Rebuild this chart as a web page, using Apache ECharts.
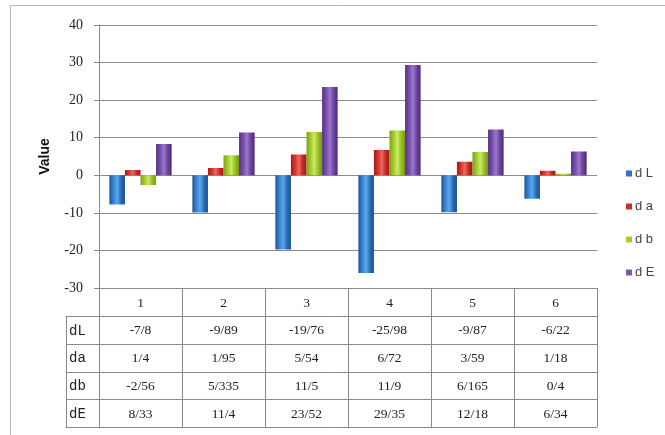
<!DOCTYPE html>
<html>
<head>
<meta charset="utf-8">
<script src="https://cdn.jsdelivr.net/npm/echarts@6/dist/echarts.min.js"></script>
<style>
html,body{margin:0;padding:0;background:#fff;}
#c{width:665px;height:435px;}
</style>
</head>
<body>
<div id="c"></div>
<script>
const categories = ['1', '2', '3', '4', '5', '6'];
const seriesNames = ['d L', 'd a', 'd b', 'd E'];
const dL = [-7.8, -9.89, -19.76, -25.98, -9.87, -6.22];
const da = [1.4, 1.95, 5.54, 6.72, 3.59, 1.18];
const db = [-2.56, 5.335, 11.5, 11.9, 6.165, 0.4];
const dE = [8.33, 11.4, 23.52, 29.35, 12.18, 6.34];
const yTicks = { min: -30, max: 40, interval: 10 };
const axisTitle = 'Value';

const allSeries = [dL, da, db, dE];
const palettes = [
  ['#1c5596', '#3f8ad8', '#5aa8ec', '#2a6cb8', '#1a4f8c'],
  ['#a81816', '#d83a30', '#ec6a5c', '#c82a24', '#a01614'],
  ['#7ea016', '#a8d030', '#cce868', '#98c024', '#769812'],
  ['#56307e', '#7c52b0', '#9c78cc', '#6c44a0', '#502a76']
];
const legendColors = ['#2f74c4', '#cc2e2a', '#a8cc30', '#7a5aa8'];

function grad(p) {
  return new echarts.graphic.LinearGradient(0, 0, 1, 0, [
    { offset: 0, color: p[0] },
    { offset: 0.3, color: p[1] },
    { offset: 0.5, color: p[2] },
    { offset: 0.75, color: p[3] },
    { offset: 1, color: p[4] }
  ]);
}

const GL = 99, GR = 597, GT = 25, GB = 288;
const chart = echarts.init(document.getElementById('c'), null, { renderer: 'canvas' });

const option = {
  animation: false,
  backgroundColor: '#ffffff',
  grid: { left: GL, right: 665 - GR, top: GT, bottom: 435 - GB, containLabel: false },
  legend: {
    orient: 'vertical',
    left: 621,
    top: 162,
    itemWidth: 6,
    itemHeight: 6,
    itemGap: 20,
    icon: 'rect',
    data: seriesNames.map((n, i) => ({ name: n, itemStyle: { color: legendColors[i] } })),
    textStyle: { fontFamily: 'Liberation Sans', fontSize: 13, color: '#444', padding: [0, 0, 0, -2] }
  },
  xAxis: {
    type: 'category',
    data: categories,
    axisLine: { show: false },
    axisTick: { show: false },
    axisLabel: { show: false },
    splitLine: { show: false }
  },
  yAxis: {
    type: 'value',
    min: yTicks.min,
    max: yTicks.max,
    interval: yTicks.interval,
    name: axisTitle,
    nameLocation: 'middle',
    nameGap: 47,
    nameTextStyle: { fontFamily: 'Liberation Sans', fontWeight: 'bold', fontSize: 14, color: '#111' },
    axisLine: { show: true, lineStyle: { color: '#8a8a8a', width: 1 } },
    axisTick: { show: true, length: 5, lineStyle: { color: '#8a8a8a' } },
    axisLabel: { fontFamily: 'Liberation Serif', fontSize: 14, color: '#222', margin: 16 },
    splitLine: { show: true, lineStyle: { color: '#8c8c8c', width: 1 } }
  },
  series: allSeries.map((vals, i) => ({
    name: seriesNames[i],
    type: 'bar',
    data: vals,
    barGap: '0%',
    barCategoryGap: '25%',
    itemStyle: { color: grad(palettes[i]) }
  }))
};
chart.setOption(option);

function fmt(v) { return String(v).replace('.', '/'); }

const lineStyle = { stroke: '#8a8a8a', lineWidth: 1 };
const els = [];
// outer chart border
els.push({ type: 'rect', shape: { x: 10.5, y: 5.5, width: 700, height: 500 }, style: { fill: null, stroke: '#b8b8b8', lineWidth: 1 }, silent: true, z: 0 });

const tableTop = GB, headerH = 28, rowH = 27.75, labelLeft = 66;
const rowTops = [tableTop + headerH];
for (let r = 1; r <= allSeries.length; r++) rowTops.push(tableTop + headerH + r * rowH);
const tableBottom = rowTops[rowTops.length - 1];
const catW = (GR - GL) / categories.length;

// horizontal lines
els.push({ type: 'line', shape: { x1: GL, y1: tableTop + 0.5, x2: GR, y2: tableTop + 0.5 }, style: lineStyle, z: 5 });
rowTops.forEach(y => {
  const yy = Math.round(y) + 0.5;
  els.push({ type: 'line', shape: { x1: labelLeft, y1: yy, x2: GR, y2: yy }, style: lineStyle, z: 5 });
});
// vertical lines
els.push({ type: 'line', shape: { x1: labelLeft + 0.5, y1: rowTops[0], x2: labelLeft + 0.5, y2: tableBottom }, style: lineStyle, z: 5 });
for (let c = 0; c <= categories.length; c++) {
  const x = Math.round(GL + c * catW) + 0.5;
  els.push({ type: 'line', shape: { x1: x, y1: tableTop, x2: x, y2: tableBottom }, style: lineStyle, z: 5 });
}
const txt = (x, y, t, align, font) => ({
  type: 'text', x: x, y: y,
  style: { text: t, align: align || 'center', verticalAlign: 'middle', font: font || '13.5px "Liberation Serif"', fill: '#222' },
  z: 6
});
categories.forEach((cat, c) => {
  const cx = chart.convertToPixel({ xAxisIndex: 0 }, cat);
  els.push(txt(cx, tableTop + headerH / 2 + 1, cat));
  allSeries.forEach((vals, r) => {
    els.push(txt(cx, rowTops[r] + rowH / 2 + 1, fmt(vals[c])));
  });
});
seriesNames.forEach((n, r) => {
  els.push(txt(labelLeft + 3, rowTops[r] + rowH / 2 + 1, n.replace(' ', ''), 'left', '14px "Liberation Mono"'));
});

chart.setOption({ graphic: els });
</script>
</body>
</html>
